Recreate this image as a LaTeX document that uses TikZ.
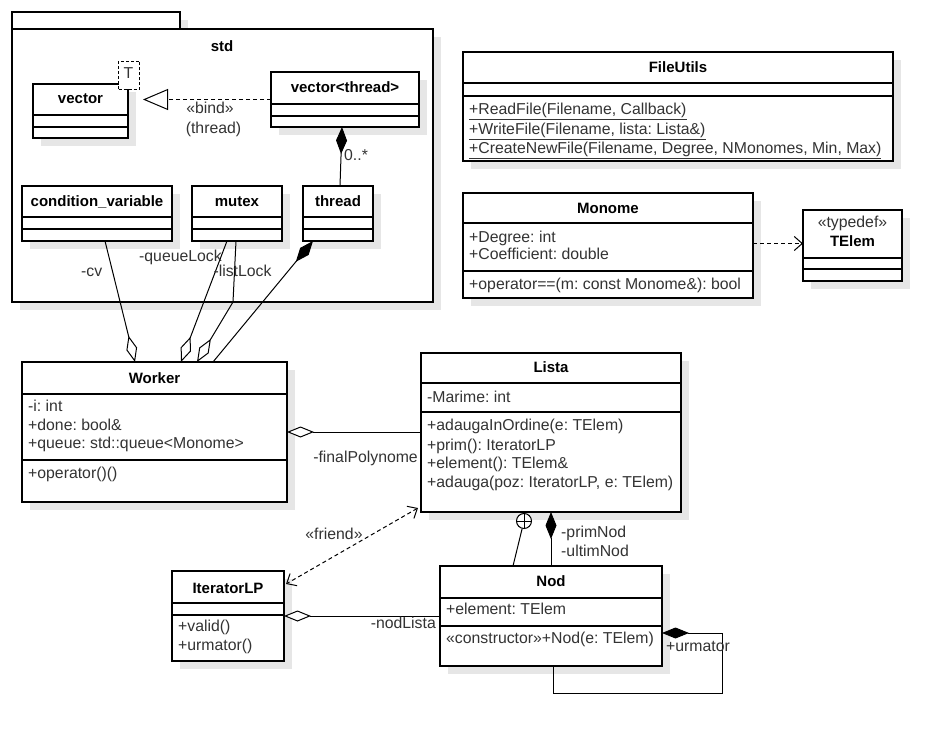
\documentclass[tikz,border=0pt]{standalone}
\usepackage{fontspec}
\setmainfont{Liberation Sans}
\frenchspacing
\usetikzlibrary{arrows.meta,shadows}
\definecolor{txt}{HTML}{333333}
\definecolor{shd}{HTML}{E6E6E6}
\tikzset{
  box/.style={draw=black, line width=1.4pt, fill=white, anchor=north west, inner sep=0pt, outer sep=0pt,
    drop shadow={shadow xshift=8pt, shadow yshift=-8pt, fill=shd, opacity=1}},
  divl/.style={draw=black, line width=1.4pt},
  cname/.style={anchor=base, inner sep=0pt, text=black, font=\fontsize{15}{18}\selectfont\bfseries},
  mem/.style={anchor=base west, inner sep=0pt, text=txt, font=\fontsize{15.8}{18}\selectfont},
  con/.style={draw=black, line width=1pt},
  dsh/.style={con, dash pattern=on 4pt off 3pt},
  aggD/.tip={Diamond[fill=white,length=27pt,width=11pt]},
  compD/.tip={Diamond[length=27pt,width=11pt]},
  openV/.tip={Straight Barb[length=8pt,width=14pt]},
  realT/.tip={Triangle[fill=white,length=25pt,width=21pt]},
}
\begin{document}
\begin{tikzpicture}[x=1pt, y=-1pt]
\useasboundingbox (0,0) rectangle (951,743);
\fill[white] (0,0) rectangle (951,743);

% package std
\node[box, minimum width=168pt, minimum height=17pt] (pkgtab) at (12,12) {};
\node[box, minimum width=421pt, minimum height=273pt] (pkg) at (12,29) {};
\node[cname] (pkgname) at (222,51.7) {std};

% vector
\node[box, minimum width=95pt, minimum height=54pt] (vec) at (33,84) {};
\draw[divl] (33,115) -- (128,115) (33,127) -- (128,127);
\node[cname] (vecname) at (80.5,104) {vector};
\node[draw=black, line width=1pt, dash pattern=on 3pt off 2pt, fill=white, anchor=north west, inner sep=0pt, minimum width=21pt, minimum height=28pt] (tpar) at (118,61) {};
\node[mem, anchor=base] (tname) at (128.5,78.7) {T};

% vector<thread>
\node[box, minimum width=148pt, minimum height=55pt] (vthr) at (271,72) {};
\draw[divl] (271,104) -- (419,104) (271,116) -- (419,116);
\node[cname] (vthrname) at (345,92.7) {vector<thread>};

% condition_variable, mutex, thread
\node[box, minimum width=150pt, minimum height=55pt] (cv) at (22,186) {};
\draw[divl] (22,217) -- (172,217) (22,229) -- (172,229);
\node[cname] (cvname) at (97,206.7) {condition\_variable};
\node[box, minimum width=90pt, minimum height=55pt] (mtx) at (192,186) {};
\draw[divl] (192,217) -- (282,217) (192,229) -- (282,229);
\node[cname] (mtxname) at (237,206.7) {mutex};
\node[box, minimum width=70pt, minimum height=55pt] (thr) at (303,186) {};
\draw[divl] (303,217) -- (373,217) (303,229) -- (373,229);
\node[cname] (thrname) at (338,206.7) {thread};

% FileUtils
\node[box, minimum width=430pt, minimum height=109pt] (fu) at (463,52) {};
\draw[divl] (463,83) -- (893,83) (463,96) -- (893,96);
\node[cname] (funame) at (678,73) {FileUtils};
\node[mem] (fu1) at (469,115) {\underline{+ReadFile(Filename, Callback)}};
\node[mem] (fu2) at (469,134.3) {\underline{+WriteFile(Filename, lista: Lista\&)}};
\node[mem] (fu3) at (469,153.3) {\underline{+CreateNewFile(Filename, Degree, NMonomes, Min, Max)}};

% Monome
\node[box, minimum width=290pt, minimum height=105pt] (mon) at (463,193) {};
\draw[divl] (463,223) -- (753,223) (463,271) -- (753,271);
\node[cname] (monname) at (608,213.3) {Monome};
\node[mem] (mon1) at (469,242.3) {+Degree: int};
\node[mem] (mon2) at (469,260) {+Coefficient: double};
\node[mem] (mon3) at (469,290) {+operator==(m: const Monome\&): bool};

% TElem
\node[box, minimum width=99pt, minimum height=71pt] (te) at (803,210) {};
\draw[divl] (803,258) -- (902,258) (803,269) -- (902,269);
\node[mem, anchor=base] (testereo) at (852.5,228) {«typedef»};
\node[cname] (tename) at (852.5,246.7) {TElem};

% Worker
\node[box, minimum width=265pt, minimum height=140pt] (wk) at (22,362) {};
\draw[divl] (22,394) -- (287,394) (22,460) -- (287,460);
\node[cname] (wkname) at (154.5,383.3) {Worker};
\node[mem] (wk1) at (28,411.7) {-i: int};
\node[mem] (wk2) at (28,430) {+done: bool\&};
\node[mem] (wk3) at (28,448.7) {+queue: std::queue<Monome>};
\node[mem] (wk4) at (28,478.3) {+operator()()};

% Lista
\node[box, minimum width=260pt, minimum height=159pt] (li) at (421,353) {};
\draw[divl] (421,383) -- (681,383) (421,412) -- (681,412);
\node[cname] (liname) at (551,372.3) {Lista};
\node[mem] (li1) at (427,402.3) {-Marime: int};
\node[mem] (li2) at (427,430.7) {+adaugaInOrdine(e: TElem)};
\node[mem] (li3) at (427,450) {+prim(): IteratorLP};
\node[mem] (li4) at (427,468.3) {+element(): TElem\&};
\node[mem] (li5) at (427,487.7) {+adauga(poz: IteratorLP, e: TElem)};

% IteratorLP
\node[box, minimum width=112pt, minimum height=90pt] (it) at (172,571) {};
\draw[divl] (172,603) -- (284,603) (172,615) -- (284,615);
\node[cname] (itname) at (228,593.3) {IteratorLP};
\node[mem] (it1) at (178,631.7) {+valid()};
\node[mem] (it2) at (178,650.7) {+urmator()};

% Nod
\node[box, minimum width=222pt, minimum height=100pt] (nod) at (440,566) {};
\draw[divl] (440,598) -- (662,598) (440,626) -- (662,626);
\node[cname] (nodname) at (551,586) {Nod};
\node[mem] (nod1) at (446,614) {+element: TElem};
\node[mem] (nod2) at (446,643.3) {«constructor»+Nod(e: TElem)};

% ---- connectors ----
\draw[dsh, -realT, shorten >=15pt] (vthr.west) -- (vthr.west -| vec.east);
\node[mem, anchor=base] (bind1) at (210,113.3) {«bind»};
\node[mem, anchor=base] (bind2) at (213.5,133.3) {(thread)};

\draw[con, compD-] ([xshift=-3pt]vthr.south) -- ([xshift=2pt]thr.north);
\node[mem] (mult) at (344,161) {0..*};

\draw[con, -aggD] ([xshift=8pt]cv.south) -- ([xshift=-19.5pt]wk.north);
\node[mem] (cvl) at (81,276.7) {-cv};
\draw[con, -aggD] ([xshift=-10pt]mtx.south) -- ([xshift=26.5pt]wk.north);
\node[mem] (qll) at (139,261.7) {-queueLock};
\coordinate (lbend) at (233,302);
\draw[con, -aggD] ([xshift=-1pt]mtx.south) -- (lbend) -- ([xshift=42.5pt]wk.north);
\node[mem] (lll) at (213.3,276.7) {-listLock};
\draw[con, compD-] ([xshift=-25pt]thr.south) -- ([xshift=58.5pt]wk.north);

\draw[con, aggD-] (wk.east) -- (wk.east -| li.west);
\node[mem, anchor=base east] (fpl) at (418,462) {-finalPolynome};

\draw[dsh, openV-openV] ([xshift=-3pt,yshift=4pt]li.south west) -- ([xshift=2pt,yshift=-13pt]it.north east);
\node[mem, anchor=base] (frl) at (334,539) {«friend»};

\node[draw=black, line width=1pt, circle, fill=white, minimum size=15pt, inner sep=0pt] (nest) at (524,521) {};
\draw[con] (nest.north) -- (nest.south) (nest.west) -- (nest.east);
\draw[con] (nest) -- ([xshift=-38pt]nod.north);

\draw[con, compD-] (li.south) -- (nod.north);
\node[mem] (pnl) at (561,537.3) {-primNod};
\node[mem] (unl) at (561,556) {-ultimNod};

\draw[con, aggD-] (it.east) -- (it.east -| nod.west);
\node[mem, anchor=base east] (nll) at (436,628.3) {-nodLista};

\coordinate (loopc) at (722,693);
\draw[con, compD-] ([yshift=-17pt]nod.east) -| (loopc) -| ([xshift=2pt]nod.south);
\node[mem] (url) at (666,651.7) {+urmator};

\draw[dsh, -openV] ([yshift=2pt]mon.east) -- ([yshift=2pt]mon.east -| te.west);
\end{tikzpicture}
\end{document}
